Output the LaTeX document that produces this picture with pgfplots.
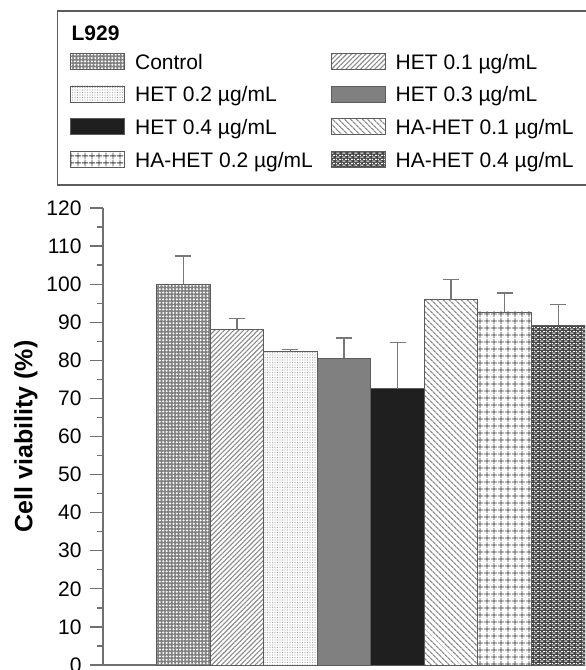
\documentclass[border=0pt]{standalone}
\usepackage{pgfplots}
\pgfplotsset{compat=1.18}
\usepackage{fontspec}
\setmainfont{Liberation Sans}
\usetikzlibrary{patterns,patterns.meta}

\definecolor{axisgray}{HTML}{707070}
\definecolor{edgegray}{HTML}{5C5C5C}
\definecolor{errgray}{HTML}{787878}

% staggered short dashes, used over a dark fill
\pgfdeclarepattern{
  name=weave, type=uncolored,
  bottom left={\pgfpoint{0pt}{0pt}},
  top right={\pgfpoint{6pt}{4pt}},
  tile size={\pgfpoint{6pt}{4pt}},
  code={
    \pgfpathrectangle{\pgfpoint{0.5pt}{0.5pt}}{\pgfpoint{3.4pt}{1.2pt}}
    \pgfpathrectangle{\pgfpoint{3.5pt}{2.5pt}}{\pgfpoint{2.5pt}{1.2pt}}
    \pgfpathrectangle{\pgfpoint{0pt}{2.5pt}}{\pgfpoint{0.9pt}{1.2pt}}
    \pgfusepath{fill}
  }
}

\pgfplotsset{
  swatch/.style={
    legend image code/.code={\draw[##1,line width=0.8pt] (0pt,-5pt) rectangle (54pt,11pt);}
  },
  errb/.style={
    /pgfplots/error bars/y dir=plus,
    /pgfplots/error bars/y explicit,
    /pgfplots/error bars/error bar style={draw=errgray,line width=1.3pt},
    /pgfplots/error bars/error mark options={rotate=90,draw=errgray,line width=1.3pt,mark size=8pt},
  },
  barbase/.style={swatch,draw=edgegray,line width=0.9pt,errb},
}

\begin{document}
\begin{tikzpicture}
\begin{axis}[
  at={(103pt,5pt)}, anchor=south west,
  scale only axis, width=482pt, height=457pt,
  xmin=-0.5, xmax=8.5, ymin=0, ymax=120,
  axis x line=bottom, axis y line=left,
  axis line style={-, draw=axisgray, line width=1.4pt},
  xtick=\empty,
  ytick={0,10,...,120}, minor ytick={5,15,...,115},
  tick align=outside, major tick length=13pt, minor tick length=6pt,
  tick style={draw=axisgray, line width=1.3pt},
  yticklabel style={font=\fontsize{21}{25}\selectfont, xshift=-5pt, /pgf/number format/assume math mode=true},
  ylabel={Cell viability (\%)},
  ylabel style={font=\bfseries\fontsize{25}{30}\selectfont, at={(axis description cs:-0.16,0.5)}, anchor=center},
  ybar, bar width=1, bar shift=0pt,
  legend columns=2, legend cell align=left,
  legend style={at={(axis description cs:-0.0952,1.4311)}, anchor=north west,
    draw=none, fill=none,
    font=\fontsize{21}{25}\selectfont,
    inner xsep=13pt, inner ysep=9.5pt, row sep=11.5pt,
    nodes={inner sep=0pt, text height=15pt, text depth=5pt},
    /tikz/every odd column/.append style={column sep=10pt},
    /tikz/every even column/.append style={column sep=18pt}},
]
\addlegendimage{empty legend}
\addlegendentry[text height=20pt, text depth=0.5pt]{\makebox[0pt][l]{\hspace{-64pt}\bfseries\fontsize{21}{25}\selectfont L929}}
\addlegendimage{empty legend}
\addlegendentry{}

% Control
\addplot[barbase, fill=black!50, postaction={pattern={Dots[distance=3.4pt,radius=1.15pt]}, pattern color=white}]
  coordinates {(1,100) +- (0,7.4)};
\addlegendentry{Control}
% HET 0.1
\addplot[barbase, fill=white, postaction={pattern={Lines[angle=45,distance=3.4pt,line width=1.1pt]}, pattern color=black!45}]
  coordinates {(2,88) +- (0,3)};
\addlegendentry{HET 0.1 µg/mL}
% HET 0.2
\addplot[barbase, fill=white, postaction={pattern={Dots[distance=2.5pt,radius=0.55pt]}, pattern color=black!35}]
  coordinates {(3,82.3) +- (0,0.6)};
\addlegendentry{HET 0.2 µg/mL}
% HET 0.3
\addplot[barbase, fill=black!50]
  coordinates {(4,80.6) +- (0,5.3)};
\addlegendentry{HET 0.3 µg/mL}
% HET 0.4
\addplot[barbase, fill=black!88]
  coordinates {(5,72.5) +- (0,12.1)};
\addlegendentry{HET 0.4 µg/mL}
% HA-HET 0.1
\addplot[barbase, fill=white, postaction={pattern={Lines[angle=-45,distance=4pt,line width=1.3pt]}, pattern color=black!45}]
  coordinates {(6,95.9) +- (0,5.4)};
\addlegendentry{HA-HET 0.1 µg/mL}
% HA-HET 0.2
\addplot[barbase, fill=white, postaction={pattern={Hatch[angle=0,distance=6.5pt,line width=0.9pt]}, pattern color=black!75}]
  coordinates {(7,92.7) +- (0,5.0)};
\addlegendentry{HA-HET 0.2 µg/mL}
% HA-HET 0.4
\addplot[barbase, fill=black!72, postaction={pattern=weave, pattern color=white}]
  coordinates {(8,89.2) +- (0,5.4)};
\addlegendentry{HA-HET 0.4 µg/mL}
\end{axis}
% legend frame, open on the cropped right side
\draw[edgegray, line width=1.2pt] (586pt,659pt) -- (57.1pt,659pt) -- (57.1pt,485pt) -- (586pt,485pt);
\pgfresetboundingbox
\path[use as bounding box] (0,0) rectangle (586pt,670pt);
\end{tikzpicture}
\end{document}
